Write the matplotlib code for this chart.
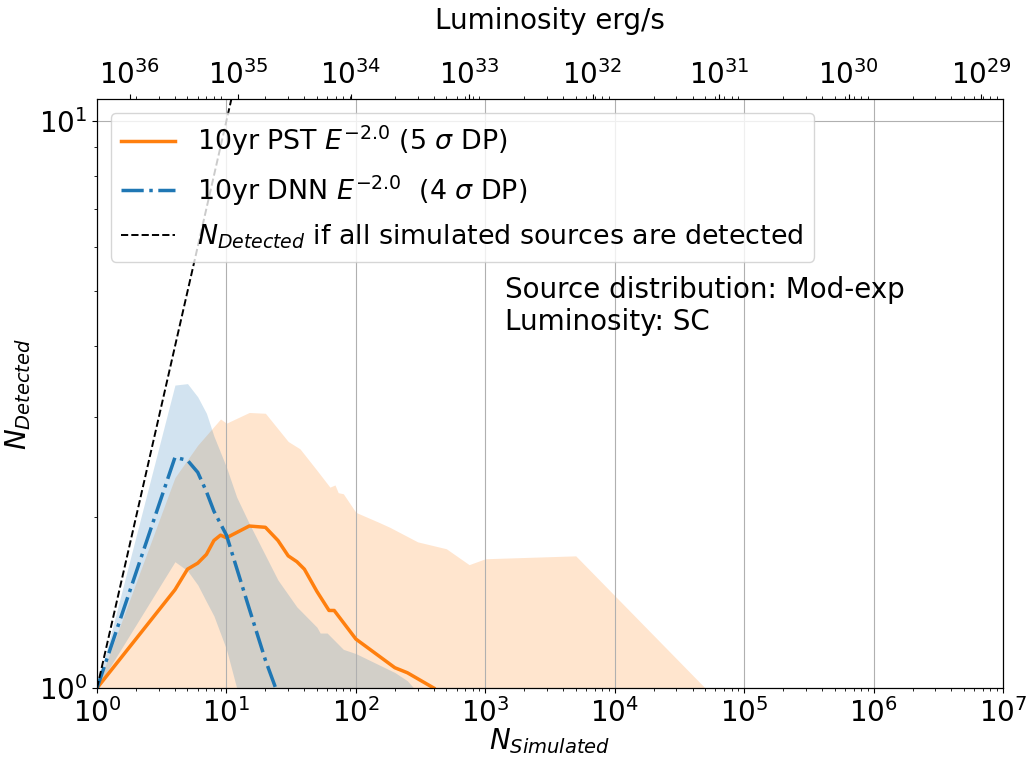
import numpy as np
import matplotlib.pyplot as plt

# PST curve (orange) : median
pst_n = [1, 4, 5, 6, 7, 8, 9, 10, 15, 20, 25, 30, 35, 40, 50, 62, 68, 100, 200, 250, 400]
pst_med = [1.0, 1.49, 1.62, 1.66, 1.72, 1.82, 1.86, 1.84, 1.93, 1.92, 1.82, 1.71, 1.67, 1.62,
           1.48, 1.37, 1.37, 1.22, 1.086, 1.064, 1.0]

# PST band
pst_band_n = [1, 4, 6, 9, 10, 15, 20, 30, 37, 50, 63, 69, 73, 80, 100, 150, 183, 300, 500,
              750, 1000, 5000, 50000]
pst_band_hi = [1.0, 2.35, 2.68, 2.98, 2.93, 3.06, 3.05, 2.72, 2.64, 2.42, 2.26, 2.28, 2.21, 2.20,
               2.04, 1.96, 1.92, 1.81, 1.76, 1.65, 1.69, 1.71, 1.0]
pst_band_lo = [1.0] * len(pst_band_n)

# DNN curve (blue) : median
dnn_n = [1, 4, 5, 6, 7, 8, 10, 15, 20, 24]
dnn_med = [1.0, 2.55, 2.52, 2.40, 2.22, 2.05, 1.86, 1.38, 1.12, 1.0]

# DNN band
dnn_band_n = [1, 4, 5, 6, 7, 8, 10, 12, 15, 25, 35, 50, 53, 60, 80, 100, 200, 250, 280]
dnn_band_hi = [1.0, 3.42, 3.44, 3.26, 3.05, 2.78, 2.45, 2.17, 1.95, 1.55, 1.39, 1.28, 1.25, 1.25,
               1.17, 1.15, 1.065, 1.03, 1.0]
dnn_band_lo = [1.0, 1.67, 1.61, 1.52, 1.42, 1.34, 1.17, 1.0, 1.0, 1.0, 1.0, 1.0, 1.0, 1.0,
               1.0, 1.0, 1.0, 1.0, 1.0]

# all sources detected
all_n = [1, 10, 100]

# top axis : luminosity labels and where they sit on the N_simulated axis (log10 N)
lum_exp = [36, 35, 34, 33, 32, 31, 30, 29]
lum_logn = [0.255, 1.090, 1.959, 2.875, 3.829, 4.807, 5.81, 6.83]

fs = 20

fig = plt.figure(figsize=(10.29, 7.57), dpi=100)
ax = fig.add_axes([0.0943, 0.0911, 0.8804, 0.7775])

ax.fill_between(pst_band_n, pst_band_lo, pst_band_hi, color='tab:orange', alpha=0.2, linewidth=0)
ax.fill_between(dnn_band_n, dnn_band_lo, dnn_band_hi, color='tab:blue', alpha=0.2, linewidth=0)
ax.plot(pst_n, pst_med, color='tab:orange', linewidth=2.5,
        label=r'10yr PST $E^{-2.0}$ (5 $\sigma$ DP)')
ax.plot(dnn_n, dnn_med, color='tab:blue', linewidth=2.5, linestyle='-.',
        label=r'10yr DNN $E^{-2.0}$  (4 $\sigma$ DP)')
ax.plot(all_n, all_n, color='black', linewidth=1.4, linestyle='--',
        label=r'$N_{Detected}$ if all simulated sources are detected')

ax.set_xscale('log')
ax.set_yscale('log')
ax.set_xlim(1, 1e7)
ax.set_ylim(1, 10.9)
ax.grid(True, which='major')
ax.tick_params(axis='both', which='major', labelsize=fs)
ax.set_xlabel(r'$N_{Simulated}$', fontsize=fs, labelpad=-1)
ax.set_ylabel(r'$N_{Detected}$', fontsize=fs)

ax.legend(loc='upper left', fontsize=19.4, bbox_to_anchor=(0.0, 1.0), labelspacing=0.55)

ax.text(0.45, 0.70, 'Source distribution: Mod-exp\nLuminosity: SC', transform=ax.transAxes,
        fontsize=fs, va='top', ha='left', linespacing=1.2)

# top axis
ax2 = ax.twiny()
ax2.set_xscale('log')
ax2.set_xlim(ax.get_xlim())
ax2.set_xticks([10 ** v for v in lum_logn])
ax2.set_xticklabels([r'$10^{%d}$' % e for e in lum_exp])
ax2.tick_params(axis='x', which='major', labelsize=fs)
ax2.set_xlabel('Luminosity erg/s', fontsize=fs, labelpad=22)

plt.savefig('out.png', dpi=100)
